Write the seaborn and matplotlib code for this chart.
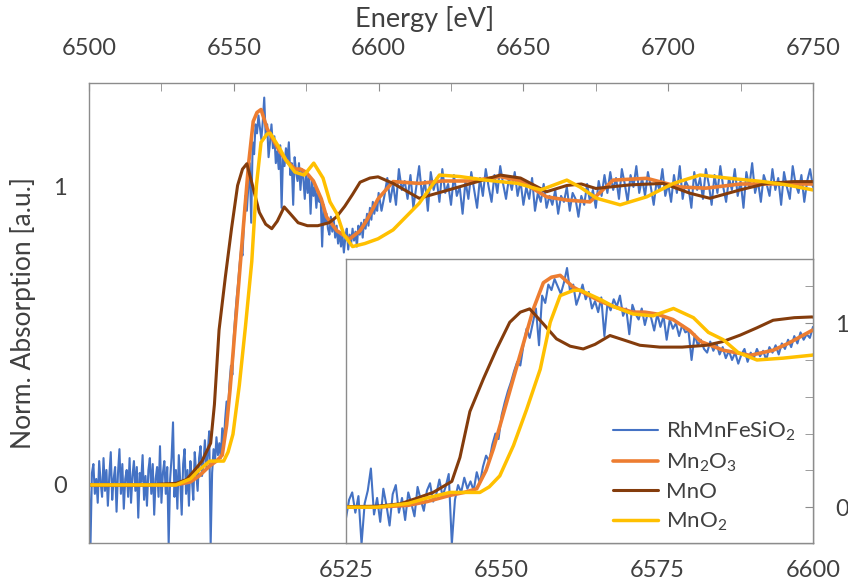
import matplotlib
matplotlib.use("Agg")
import matplotlib.pyplot as plt
from matplotlib.ticker import MultipleLocator, FixedLocator
import numpy as np
import seaborn as sns

# reference spectra (energy in eV, normalised absorption)
mn2o3_e = [6500, 6510, 6520, 6530, 6535, 6538, 6541.7, 6544, 6546, 6547.5, 6548.7,
           6550.8, 6552.9, 6555.1, 6556.7, 6558, 6559.4, 6561.5, 6563.5, 6565.8,
           6568, 6571.1, 6573, 6574.9, 6577.5, 6580.2, 6582, 6585.6, 6589.9, 6593.6,
           6596, 6599.8, 6605, 6614, 6622, 6632, 6642, 6649, 6658, 6665, 6673, 6681,
           6692.6, 6704, 6713, 6725, 6734, 6750]
mn2o3_mu = [0.0, 0.0, 0.0, 0.0, 0.01, 0.03, 0.064, 0.08, 0.10, 0.20, 0.32,
            0.57, 0.82, 1.078, 1.22, 1.25, 1.26, 1.196, 1.16, 1.12,
            1.09, 1.06, 1.06, 1.05, 1.02, 0.96, 0.90, 0.853, 0.825, 0.853,
            0.89, 0.96, 1.018, 1.012, 1.02, 1.02, 1.035, 1.02, 0.967, 0.956, 0.95, 1.023,
            1.029, 1.0, 0.996, 1.01, 1.01, 1.01]

mno_e = [6500, 6520, 6530, 6533.7, 6536.5, 6539, 6542, 6543.3, 6544.9, 6547.1, 6549.2,
         6551.3, 6553, 6554.5, 6556.7, 6558.8, 6561, 6563.1, 6565, 6567.4, 6569.5,
         6572.2, 6575.4, 6579, 6582.9, 6585.5, 6588.3, 6591, 6593.6, 6597, 6599.8,
         6605, 6614, 6622, 6632, 6642, 6649, 6658, 6665, 6670, 6675, 6686.8, 6698.3,
         6707.5, 6714.4, 6724.8, 6734, 6743.2, 6750]
mno_mu = [0.0, 0.0, 0.005, 0.018, 0.05, 0.08, 0.14, 0.27, 0.52, 0.70, 0.86,
          1.005, 1.06, 1.078, 0.996, 0.915, 0.875, 0.86, 0.885, 0.933, 0.91,
          0.88, 0.87, 0.87, 0.88, 0.90, 0.935, 0.975, 1.016, 1.03, 1.034,
          1.012, 0.962, 0.984, 1.012, 1.04, 1.03, 0.984, 1.005, 1.01, 0.995, 1.007, 1.012,
          0.979, 0.962, 0.99, 1.012, 1.018, 1.018]

mno2_e = [6500, 6530, 6535, 6538, 6541.7, 6546.5, 6548, 6549.7, 6551.9, 6554, 6556.2,
          6557.8, 6559.4, 6561.5, 6562.6, 6565.8, 6568, 6571.1, 6574.3, 6577.6, 6580.8,
          6583.2, 6585.6, 6588, 6591, 6595.2, 6599.8, 6605, 6614, 6621, 6628, 6637,
          6648, 6656, 6665, 6669.5, 6675.3, 6683.4, 6692.6, 6701.8, 6711, 6721.3,
          6732.8, 6741, 6750]
mno2_mu = [0.0, 0.0, 0.02, 0.05, 0.08, 0.08, 0.11, 0.17, 0.335, 0.53, 0.75,
           1.005, 1.15, 1.178, 1.18, 1.13, 1.09, 1.05, 1.04, 1.08, 1.03,
           0.95, 0.91, 0.84, 0.80, 0.81, 0.826, 0.856, 0.945, 1.04, 1.035, 1.023,
           1.012, 0.99, 1.023, 1.0, 0.962, 0.94, 0.967, 1.012, 1.04, 1.029,
           1.018, 1.007, 0.99]

# measured sample: 0.5 eV steps up to 6600, then 1 eV steps
sample_e = np.concatenate([np.arange(6500, 6600, 0.5), np.arange(6600, 6751)])
sample_mu = [
    # 6500 - 6599.5 (0.5 eV)
    -0.02, -0.20, 0.04, 0.07, -0.03, 0.02, -0.06, 0.08, 0.01, -0.04,
    0.09, -0.02, 0.05, -0.07, 0.03, 0.11, -0.05, 0.02, 0.06, -0.09,
    0.04, 0.12, -0.03, 0.07, -0.08, 0.02, 0.05, -0.04, 0.09, -0.06,
    0.03, 0.08, -0.02, 0.06, -0.11, 0.04, 0.01, 0.10, -0.05, 0.03,
    -0.07, 0.05, 0.09, -0.03, 0.07, -0.10, 0.02, 0.06, -0.04, 0.13,
    -0.06, 0.04, 0.08, -0.03, 0.06, -0.20, 0.02, 0.09, 0.21, -0.04,
    0.05, -0.08, 0.10, 0.01, -0.10, 0.07, 0.12, -0.03, 0.05, -0.07,
    0.08, 0.02, -0.05, 0.11, 0.04, -0.02, 0.09, 0.13, 0.03, 0.07,
    0.15, 0.06, 0.11, 0.18, -0.20, 0.04, 0.12, 0.08, 0.16, 0.10,
    0.14, 0.09, 0.19, 0.13, 0.22, 0.28, 0.25, 0.34, 0.40, 0.37,
    0.50, 0.57, 0.63, 0.68, 0.74, 0.79, 0.77, 0.88, 0.97, 0.92,
    1.00, 1.08, 0.88, 1.15, 1.11, 1.21, 1.18, 1.24, 1.20, 1.16,
    1.22, 1.30, 1.17, 1.21, 1.10, 1.15, 1.21, 1.13, 1.17, 1.08,
    1.12, 1.06, 1.14, 0.93, 1.11, 1.07, 1.13, 1.09, 1.15, 1.04,
    1.08, 0.94, 1.10, 1.05, 1.02, 1.08, 0.99, 1.06, 1.03, 0.96,
    1.05, 0.98, 1.04, 0.91, 1.02, 0.97, 1.00, 0.93, 0.99, 0.95,
    0.96, 0.80, 0.94, 0.88, 0.91, 0.86, 0.84, 0.90, 0.85, 0.89,
    0.83, 0.87, 0.81, 0.85, 0.80, 0.84, 0.78, 0.83, 0.86, 0.79,
    0.84, 0.81, 0.86, 0.82, 0.85, 0.80, 0.87, 0.84, 0.88, 0.83,
    0.89, 0.86, 0.91, 0.87, 0.93, 0.89, 0.95, 0.91, 0.94, 0.92,
    # 6600 - 6750 (1 eV)
    0.98, 0.92, 0.97, 1.03, 0.95, 1.01, 0.94, 1.06, 0.99, 1.02,
    0.96, 1.04, 0.93, 1.00, 1.07, 0.97, 1.02, 0.92, 1.05, 0.99,
    1.03, 0.95, 1.06, 0.98, 1.01, 0.94, 1.04, 0.97, 1.00, 0.91,
    1.02, 0.96, 1.05, 0.99, 0.93, 1.03, 0.97, 1.06, 1.00, 0.95,
    1.04, 0.98, 1.07, 1.01, 0.96, 1.03, 0.99, 1.05, 0.97, 1.02,
    0.94, 1.00, 0.96, 1.03, 0.92, 0.98, 0.95, 1.01, 0.93, 0.97,
    0.94, 0.99, 0.91, 0.97, 0.95, 1.00, 0.92, 0.98, 0.96, 0.90,
    0.97, 0.94, 1.01, 0.95, 0.99, 0.93, 1.02, 0.97, 1.04, 0.98,
    1.05, 0.99, 1.03, 0.96, 1.06, 1.01, 0.95, 1.04, 1.00, 1.07,
    0.98, 1.03, 0.97, 1.05, 1.00, 0.94, 1.02, 0.99, 1.06, 0.97,
    1.01, 0.95, 1.04, 0.98, 1.07, 0.96, 1.02, 1.00, 0.93, 1.05,
    0.99, 1.03, 0.96, 1.06, 1.01, 0.94, 1.04, 0.98, 1.07, 1.00,
    0.95, 1.03, 0.99, 1.06, 0.97, 1.02, 0.93, 1.05, 1.00, 1.08,
    0.98, 1.02, 0.95, 1.04, 1.01, 0.97, 1.06, 0.99, 1.03, 0.94,
    1.05, 1.00, 0.96, 1.07, 1.01, 0.98, 1.04, 0.95, 1.02, 1.06, 1.00,
]

labels = ["RhMnFeSiO$\\mathregular{_2}$", "Mn$\\mathregular{_2}$O$\\mathregular{_3}$",
          "MnO", "MnO$\\mathregular{_2}$"]
colors = ["#4472C4", "#ED7D31", "#843C0C", "#FFC000"]

sns.set_style("white")
plt.rcParams["font.family"] = ["Lato", "DejaVu Sans"]
plt.rcParams["mathtext.fontset"] = "custom"
plt.rcParams["mathtext.rm"] = "Lato"

GREY = "#8c8c8c"
TXT = "#404040"
YLIM = (-0.195, 1.349)


def draw(ax, with_labels):
    series = [(sample_e, sample_mu, 1.5), (mn2o3_e, mn2o3_mu, 2.6),
              (mno_e, mno_mu, 2.2), (mno2_e, mno2_mu, 2.5)]
    for (e, mu, lw), c, lab in zip(series, colors, labels):
        sns.lineplot(x=e, y=mu, ax=ax, color=c, lw=lw, sort=False, estimator=None,
                     label=lab if with_labels else None)
    for s in ax.spines.values():
        s.set_color(GREY)
        s.set_linewidth(1.0)
    ax.set_ylim(*YLIM)


fig = plt.figure(figsize=(8.48, 5.84), dpi=100)

# main panel, energy axis on top
ax = fig.add_axes([0.105, 0.0702, 0.8537, 0.7877])
draw(ax, False)
ax.set_xlim(6500, 6750)
ax.xaxis.set_ticks_position("top")
ax.xaxis.set_label_position("top")
ax.xaxis.set_major_locator(MultipleLocator(50))
ax.xaxis.set_minor_locator(MultipleLocator(25))
ax.yaxis.set_major_locator(FixedLocator([0, 1]))
ax.yaxis.set_minor_locator(FixedLocator([0.2, 0.4, 0.6, 0.8, 1.2]))
ax.tick_params(axis="x", which="both", direction="in", length=6, color=GREY,
               labelsize=17, labelcolor=TXT, pad=17)
ax.tick_params(axis="y", which="both", direction="in", length=6, color=GREY,
               labelsize=17, labelcolor=TXT, pad=16)
ax.set_xlabel("Energy [eV]", fontsize=19.5, color=TXT, labelpad=8)
ax.xaxis.label.set_x(0.464)
ax.set_ylabel("Norm. Absorption [a.u.]", fontsize=19, color=TXT, labelpad=12)
if ax.get_legend():
    ax.get_legend().remove()

# zoomed inset on the edge region
ins = fig.add_axes([0.408, 0.0702, 0.5507, 0.4863])
ins.set_facecolor("white")
draw(ins, True)
ins.set_xlim(6525, 6600)
ins.xaxis.set_major_locator(MultipleLocator(25))
ins.yaxis.tick_right()
ins.yaxis.set_major_locator(FixedLocator([0, 1]))
ins.yaxis.set_minor_locator(FixedLocator([0.2, 0.4, 0.6, 0.8, 1.2]))
ins.tick_params(axis="x", which="both", direction="in", length=6, color=GREY,
                labelsize=17, labelcolor=TXT, pad=12)
ins.tick_params(axis="y", which="both", direction="in", length=6, color=GREY,
                labelsize=17, labelcolor=TXT, pad=16)
ins.set_xlabel("")
ins.set_ylabel("")
ins.legend(loc="lower right", bbox_to_anchor=(1.004, -0.035), frameon=False,
           fontsize=16, handlelength=2.0, handletextpad=0.35, labelspacing=0.38,
           labelcolor=TXT)

fig.savefig("out.png", dpi=100)
